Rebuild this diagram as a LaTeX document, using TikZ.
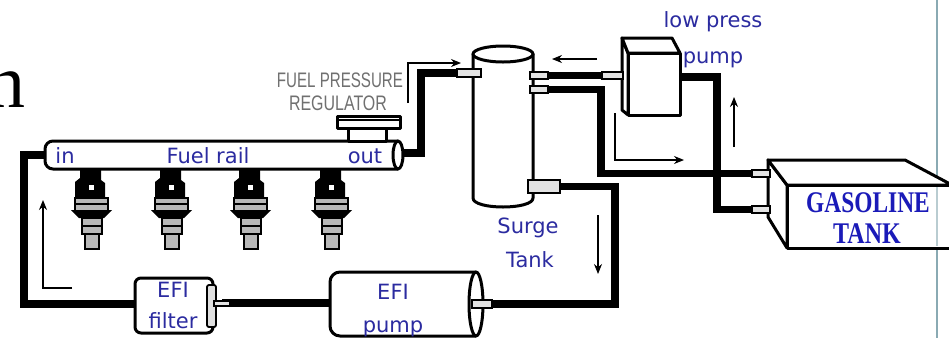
\documentclass[tikz,border=0pt]{standalone}
\usepackage{fontspec}
\setmainfont{Liberation Serif}
\newfontfamily\lblfont{DejaVu Sans}
\newfontfamily\capfont{Liberation Sans}
\newfontfamily\tankfont{Liberation Serif}
\usetikzlibrary{arrows.meta}
\definecolor{lblblue}{HTML}{2B2BA0}
\definecolor{tankblue}{HTML}{1A1AB8}
\definecolor{capgray}{HTML}{707070}
\definecolor{edgeteal}{HTML}{8AAAB3}
\definecolor{partgray}{HTML}{B8B8B8}
\tikzset{
  pipe/.style={line width=7.5pt, line cap=butt, line join=miter},
  outline/.style={draw=black, line width=3pt, fill=white, line join=round},
  fitting/.style={draw=black, line width=1.3pt, fill=gray!22},
  flow/.style={line width=1.1pt, -{Stealth[length=10pt,width=8pt]}},
  lbl/.style={text=lblblue, font=\lblfont\fontsize{21}{24}\selectfont, inner sep=0pt, anchor=base},
  caplbl/.style={text=capgray, font=\capfont\fontsize{21}{24}\selectfont, inner sep=0pt, anchor=base},
  tanklbl/.style={text=tankblue, font=\tankfont\bfseries\fontsize{30}{32}\selectfont, inner sep=0pt, anchor=base},
}
\begin{document}
\begin{tikzpicture}[x=1pt, y=-1pt]
\useasboundingbox (0,0) rectangle (949,338);
\fill[white] (0,0) rectangle (949,338);

% page edge rule
\draw[edgeteal, line width=1.2pt] (937,0) -- (937,338);

% large letter
\node[anchor=base east, inner sep=0pt, font=\fontsize{76}{80}\selectfont] (letter) at (26,107) {n};

% ports
\coordinate (railin)  at (47,155);
\coordinate (railout) at (398,153);
\coordinate (stin)    at (470,73);
\coordinate (sto1)    at (540,75.5);
\coordinate (sto2)    at (540,89.5);
\coordinate (sto3)    at (550,186.5);
\coordinate (lpin)    at (612,75.5);
\coordinate (lpout)   at (680,77);
\coordinate (gtin1)   at (760,173.5);
\coordinate (gtin2)   at (760,209.5);
\coordinate (epout)   at (484,304);
\coordinate (epin)    at (331,303);
\coordinate (efout)   at (222,303);
\coordinate (efin)    at (136,304);

% fuel lines
\draw[pipe] (railout) -- (421,153) |- (stin);
\draw[pipe] (sto1) -- (lpin);
\draw[pipe] (sto2) -- (601,89.5) |- (gtin1);
\draw[pipe] (lpout) -- (717,77) |- (gtin2);
\draw[pipe] (sto3) -- (615,186.5) |- (epout);
\draw[pipe] (epin) -- (efout);
\draw[pipe] (efin) -- (24,304) |- (railin);

% fuel rail
\filldraw[outline] (398,141) [rounded corners=8pt] -- (45,141) -- (45,169) [sharp corners] -- (398,169);
\filldraw[outline] (398,155) ellipse [x radius=5pt, y radius=14pt];
\node[lbl] (railinlbl) at (65,163) {in};
\node[lbl] (raillbl) at (208,163) {Fuel rail};
\node[lbl] (railoutlbl) at (365,163) {out};

% pressure regulator
\filldraw[outline] (348,127) rectangle (386,141);
\filldraw[outline] (337,116) rectangle (400,128);
\draw[line width=2pt] (337,119.5) -- (400,119.5);
\node[caplbl] (reg1) at (340,87) {\scalebox{0.72}[1]{FUEL PRESSURE}};
\node[caplbl] (reg2) at (338,110) {\scalebox{0.76}[1]{REGULATOR}};

% injectors
\foreach \cx in {92,172,251,332}{
  \begin{scope}[shift={(\cx,0)}]
    \fill (-12,170) -- (9,170) -- (9,180) -- (13,183) -- (13,198) -- (-17,198) -- (-17,182) -- (-12,178) -- cycle;
    \fill[white] (-3,185) rectangle (2,190);
    \filldraw[fill=partgray, draw=black, line width=2pt] (-17,198) rectangle (16,211);
    \draw[line width=2pt] (-17,204) -- (16,204);
    \fill (-21,210) -- (20,210) -- (12,218) -- (-13,218) -- cycle;
    \filldraw[fill=partgray, draw=black, line width=2.2pt] (-10,218) rectangle (10,234);
    \draw[line width=2pt] (-10,226) -- (10,226);
    \filldraw[fill=partgray, draw=black, line width=2.2pt] (-7,234) rectangle (7,249);
  \end{scope}
}

% surge tank
\filldraw[outline] (473,54) -- (473,198) .. controls (473,210) and (533,210) .. (533,198) -- (533,54) -- cycle;
\filldraw[outline] (503,54) ellipse [x radius=30pt, y radius=8pt];
\node[lbl] (surge1) at (528,233) {Surge};
\node[lbl] (surge2) at (530,267) {Tank};

% low pressure pump
\filldraw[outline] (622,38) -- (628,53) -- (628,115) -- (622,110) -- cycle;
\filldraw[outline] (622,38) -- (672,38) -- (680,53) -- (628,53) -- cycle;
\filldraw[outline] (628,53) rectangle (680,115);
\node[lbl] (lp1) at (713,27) {low press};
\node[lbl] (lp2) at (713,63) {pump};

% gasoline tank
\filldraw[outline] (768,160) -- (787,185) -- (787,248) -- (768,217) -- cycle;
\filldraw[outline] (768,160) -- (905,160) -- (952,185) -- (787,185) -- cycle;
\filldraw[outline] (787,185) rectangle (962,248);
\node[tanklbl] (gas1) at (868,212) {\scalebox{0.78}[1]{GASOLINE}};
\node[tanklbl] (gas2) at (867,243) {\scalebox{0.8}[1]{TANK}};
\draw[edgeteal!60, line width=1.2pt] (937,187) -- (937,246);

% EFI filter
\filldraw[outline, rounded corners=6pt] (135,278) rectangle (213,333);
\filldraw[fill=gray!25, draw=black, line width=1.8pt, rounded corners=2pt] (207,285) rectangle (216,327);
\node[lbl] (efi1) at (173,297) {EFI};
\node[lbl] (efi2) at (173,328) {filter};

% EFI pump
\filldraw[outline] (476,272) [rounded corners=10pt] -- (330,272) -- (330,336) [sharp corners] -- (476,336);
\filldraw[outline] (476,304) ellipse [x radius=7pt, y radius=32pt];
\node[lbl] (efp1) at (393,299) {EFI};
\node[lbl] (efp2) at (393,332) {pump};

% fittings
\filldraw[fitting] (457,69) rectangle (481,77);
\filldraw[fitting] (530,72) rectangle (548,79);
\filldraw[fitting] (530,86) rectangle (548,93);
\filldraw[fitting] (528,180) rectangle (560,193);
\filldraw[fitting] (602,72) rectangle (623,79);
\filldraw[fitting] (752,170) rectangle (770,177);
\filldraw[fitting] (752,206) rectangle (770,213);
\filldraw[fitting] (472,300) rectangle (492,308);
\filldraw[fitting] (214,301) rectangle (230,306);

% flow arrows
\coordinate (a1s) at (408,103);
\coordinate (a1e) at (461,63);
\draw[flow] (a1s) |- (a1e);
\coordinate (a2s) at (597,59);
\coordinate (a2e) at (552,59);
\draw[flow] (a2s) -- (a2e);
\coordinate (a3s) at (734,147);
\coordinate (a3e) at (734,97);
\draw[flow] (a3s) -- (a3e);
\coordinate (a4s) at (615,113);
\coordinate (a4e) at (684,160);
\draw[flow] (a4s) |- (a4e);
\coordinate (a5s) at (598,215);
\coordinate (a5e) at (598,274);
\draw[flow] (a5s) -- (a5e);
\coordinate (a6s) at (72,288);
\coordinate (a6e) at (43,200);
\draw[flow] (a6s) -| (a6e);
\end{tikzpicture}
\end{document}
